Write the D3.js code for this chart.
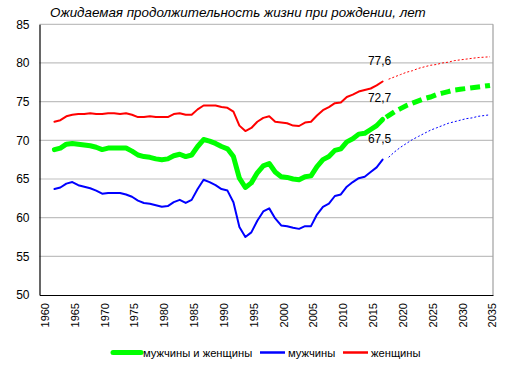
<!DOCTYPE html>
<html><head><meta charset="utf-8">
<script src="https://cdn.jsdelivr.net/npm/d3@7"></script>
<style>
body{margin:0;background:#fff;}
text{font-family:"Liberation Sans",Arial,sans-serif;fill:#000;}
</style></head>
<body>
<svg id="c" width="509" height="371"></svg>
<script>
const title = "Ожидаемая продолжительность жизни при рождении, лет";
const seriesNames = ["мужчины и женщины", "мужчины", "женщины"];
const colors = ["#00ff00", "#0000ff", "#ff0000"];

const years = d3.range(1962, 2018);
const total = [68.8,69.0,69.5,69.6,69.5,69.4,69.3,69.1,68.8,69.0,69.0,69.0,69.0,68.6,68.1,67.9,67.8,67.6,67.5,67.6,68.0,68.2,67.9,68.1,
  69.2,70.1,69.9,69.6,69.2,68.9,67.9,65.1,63.9,64.5,65.8,66.7,67.0,65.9,65.3,65.2,65.0,64.9,65.3,65.4,66.6,67.5,67.9,68.7,68.9,69.8,70.2,70.8,70.9,71.4,71.9,72.7];
const men = [63.7,63.9,64.4,64.6,64.2,64.0,63.8,63.5,63.1,63.2,63.2,63.2,63.0,62.7,62.2,61.9,61.8,61.6,61.4,61.5,62.0,62.3,61.9,62.3,
  63.7,64.9,64.6,64.2,63.7,63.5,62.0,58.8,57.5,58.1,59.6,60.8,61.2,59.9,59.0,58.9,58.7,58.55,58.9,58.9,60.4,61.4,61.8,62.8,63.0,64.0,64.6,65.1,65.3,65.9,66.5,67.5];
const women = [72.4,72.6,73.1,73.3,73.4,73.4,73.5,73.4,73.4,73.5,73.5,73.4,73.5,73.3,73.0,73.0,73.1,73.0,73.0,73.0,73.4,73.5,73.3,73.3,
  74.0,74.5,74.5,74.5,74.3,74.2,73.7,71.9,71.2,71.6,72.4,72.9,73.1,72.4,72.3,72.2,71.9,71.85,72.3,72.4,73.2,73.9,74.3,74.8,74.9,75.6,75.9,76.3,76.5,76.7,77.1,77.6];

const fYears = d3.range(2018, 2036);
const fTotal = [73.2,73.7,74.1,74.5,74.8,75.1,75.4,75.6,75.9,76.1,76.3,76.5,76.6,76.7,76.8,76.9,77.0,77.1];
const fMen = [67.8,68.5,69.1,69.6,70.1,70.5,70.9,71.3,71.6,71.9,72.2,72.4,72.6,72.8,72.9,73.1,73.2,73.3];
const fWomen = [77.9,78.2,78.5,78.8,79.0,79.3,79.5,79.7,79.8,80.0,80.1,80.3,80.4,80.5,80.6,80.7,80.75,80.8];

const yTicks = [50,55,60,65,70,75,80,85];
const xTicks = d3.range(1960, 2036, 5);
const endLabels = ["77,6", "72,7", "67,5"];

const svg = d3.select("#c");
const L = 39.5, R = 493, T = 24.3, B = 295;
const x = d3.scaleLinear().domain([1959.5, 2035.5]).range([L, R]);
const y = d3.scaleLinear().domain([50, 85]).range([B, T]);

// gridlines
svg.append("g").selectAll("line").data(yTicks.filter(d => d > 50)).join("line")
  .attr("x1", L).attr("x2", R).attr("y1", d => y(d)).attr("y2", d => y(d))
  .attr("stroke", "#c0c0c0").attr("stroke-width", 1.2);
// right border
svg.append("line").attr("x1", R).attr("x2", R).attr("y1", T).attr("y2", B)
  .attr("stroke", "#a0a0a0").attr("stroke-width", 1.2);

// axes
const yAxis = svg.append("g").attr("transform", `translate(${L},0)`)
  .call(d3.axisLeft(y).tickValues(yTicks).tickSize(0).tickPadding(10).tickFormat(d3.format("d")));
yAxis.select(".domain").attr("stroke", "#000").attr("stroke-width", 1.2);
yAxis.selectAll("text").attr("font-size", 12).style("font-family", '"Liberation Sans",Arial,sans-serif');

const xAxis = svg.append("g").attr("transform", `translate(0,${B})`)
  .call(d3.axisBottom(x).tickValues(xTicks).tickSize(0).tickFormat(d3.format("d")));
xAxis.select(".domain").attr("stroke", "#000").attr("stroke-width", 1.2);
xAxis.selectAll("text").attr("font-size", 11)
  .style("font-family", '"Liberation Sans",Arial,sans-serif')
  .attr("text-anchor", "end").attr("transform", "rotate(-90)")
  .attr("x", -8).attr("y", 0).attr("dy", "0.35em").attr("dx", 0);
xAxis.selectAll(".tick").attr("transform", d => `translate(${x(d) + 2.5},0)`);

const line = d3.line().x(d => x(d[0])).y(d => y(d[1])).curve(d3.curveLinear);
const hist = [total, men, women];
const fc = [fTotal, fMen, fWomen];
const widths = [5, 2, 2];
const fWidths = [5, 1, 1];
const dashes = ["10,5", "2,2", "2,2"];

[1, 2, 0].forEach(i => {
  svg.append("path").datum(years.map((yr, k) => [yr, hist[i][k]]))
    .attr("d", line).attr("fill", "none").attr("stroke", colors[i])
    .attr("stroke-width", widths[i]).attr("stroke-linejoin", "round").attr("stroke-linecap", "round");
  const fdata = (i === 0 ? [[2017, hist[i][hist[i].length - 1]]] : []).concat(fYears.map((yr, k) => [yr, fc[i][k]]));
  svg.append("path").datum(fdata)
    .attr("d", line).attr("fill", "none").attr("stroke", colors[i])
    .attr("stroke-width", fWidths[i]).attr("stroke-dasharray", dashes[i])
    .attr("stroke-dashoffset", i === 0 ? -4 : 0);
});

// end labels
const lastVals = [women[women.length - 1], total[total.length - 1], men[men.length - 1]];
svg.append("g").selectAll("text").data(endLabels).join("text")
  .attr("x", x(2017) - 3).attr("y", (d, i) => y(lastVals[i]) - 17)
  .attr("text-anchor", "middle").attr("font-size", 12).text(d => d);

// title
svg.append("text").attr("x", 50).attr("y", 17).attr("font-size", 13.4)
  .attr("font-style", "italic").text(title);

// legend
const legend = [
  {x0: 113, x1: 141, tx: 143, w: 5},
  {x0: 260, x1: 285, tx: 288, w: 2.5},
  {x0: 343, x1: 368, tx: 371, w: 2.5}
];
const lg = svg.append("g");
legend.forEach((l, i) => {
  lg.append("line").attr("x1", l.x0).attr("x2", l.x1).attr("y1", 352.5).attr("y2", 352.5)
    .attr("stroke", colors[i]).attr("stroke-width", l.w).attr("stroke-linecap", i === 0 ? "round" : "butt");
  lg.append("text").attr("x", l.tx).attr("y", 356.5).attr("font-size", 11.2).text(seriesNames[i]);
});
</script>
</body></html>
